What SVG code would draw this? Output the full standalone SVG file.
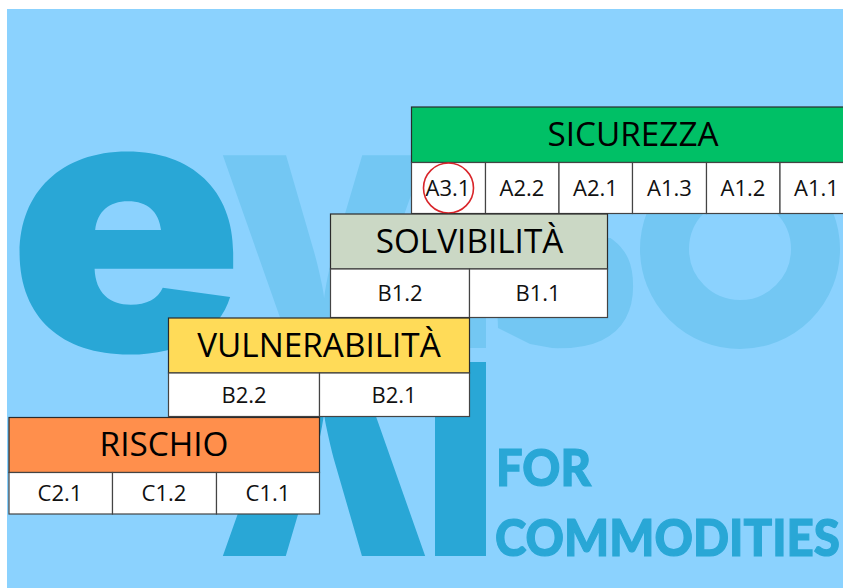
<svg xmlns="http://www.w3.org/2000/svg" width="843" height="588" viewBox="0 0 843 588">
<style>
.logo{font-family:"Open Sans","DejaVu Sans",sans-serif;font-weight:800;text-anchor:middle}
.dark{fill:#29a7d6}
.light{fill:#73c7f3}
.strap{font-family:"Lato","Open Sans",sans-serif;font-weight:900;fill:#29a7d6;stroke:#29a7d6;stroke-width:1.2;font-size:52px}
.box{stroke:#2b2b2b;stroke-width:1.2}
.cell{fill:#fff;stroke:#444;stroke-width:1.2}
.title{font-family:"Open Sans","DejaVu Sans",sans-serif;font-size:33.3px;fill:#000;text-anchor:middle}
.lab{font-family:"Open Sans","DejaVu Sans",sans-serif;font-size:22px;fill:#111;text-anchor:middle}
</style>
<defs><clipPath id="sclip"><path d="M497,300 L608,238 L640,238 L640,360 L563,350 L530,344 L498,328 Z"/></clipPath></defs>
<rect x="7" y="9" width="836" height="579" fill="#8bd2fe"/>
<g id="logo">
<text class="logo light" transform="translate(324,348) scale(1.08,1)" font-size="270">V</text>
<g clip-path="url(#sclip)"><text class="logo light" transform="translate(563,345) scale(.93,1)" font-size="345">s</text></g>
<circle cx="740" cy="249" r="75.5" fill="none" stroke="#73c7f3" stroke-width="49"/>
<rect x="435" y="155" width="51" height="193" fill="#73c7f3"/>
<text class="logo dark" style="font-family:Inter,'Open Sans',sans-serif;font-weight:900" transform="translate(126,351) scale(1.08,1)" font-size="361">e</text>
<text class="logo dark" transform="translate(324,556) scale(1.08,1)" font-size="270">Λ</text>
<rect x="435" y="362" width="51" height="194" fill="#29a7d6"/>
<text class="strap" x="496" y="486" textLength="95" lengthAdjust="spacingAndGlyphs">FOR</text>
<text class="strap" x="495" y="556" textLength="345" lengthAdjust="spacingAndGlyphs">COMMODITIES</text>
</g>
<g id="sicurezza">
<rect class="box" x="411.5" y="107" width="443" height="55.5" fill="#00c066"/>
<rect class="cell" x="411.5" y="162.5" width="74" height="51"/>
<rect class="cell" x="485.5" y="162.5" width="73.5" height="51"/>
<rect class="cell" x="559" y="162.5" width="73.5" height="51"/>
<rect class="cell" x="632.5" y="162.5" width="74" height="51"/>
<rect class="cell" x="706.5" y="162.5" width="73.5" height="51"/>
<rect class="cell" x="780" y="162.5" width="74" height="51"/>
<text class="title" x="633" y="146">SICUREZZA</text>
<text class="lab" x="448" y="196">A3.1</text>
<text class="lab" x="522" y="196">A2.2</text>
<text class="lab" x="595.5" y="196">A2.1</text>
<text class="lab" x="669.5" y="196">A1.3</text>
<text class="lab" x="743" y="196">A1.2</text>
<text class="lab" x="816.5" y="196">A1.1</text>
<circle cx="448.5" cy="188" r="25" fill="none" stroke="#d9252a" stroke-width="1.6"/>
</g>
<g id="solvibilita">
<rect class="box" x="330.5" y="214" width="277" height="55" fill="#cbd8c5"/>
<rect class="cell" x="330.5" y="269" width="139" height="48.5"/>
<rect class="cell" x="469.5" y="269" width="138" height="48.5"/>
<text class="title" x="469.5" y="253">SOLVIBILITÀ</text>
<text class="lab" x="400" y="301">B1.2</text>
<text class="lab" x="538" y="301">B1.1</text>
</g>
<g id="vulnerabilita">
<rect class="box" x="168.5" y="318" width="301" height="55" fill="#ffdb58"/>
<rect class="cell" x="168.5" y="373" width="151" height="43.5"/>
<rect class="cell" x="319.5" y="373" width="150" height="43.5"/>
<text class="title" x="319" y="357">VULNERABILITÀ</text>
<text class="lab" x="244" y="403">B2.2</text>
<text class="lab" x="394" y="403">B2.1</text>
</g>
<g id="rischio">
<rect class="box" x="9" y="417.5" width="310.5" height="55" fill="#ff8f4c"/>
<rect class="cell" x="9" y="472.5" width="103.5" height="41.5"/>
<rect class="cell" x="112.5" y="472.5" width="104" height="41.5"/>
<rect class="cell" x="216.5" y="472.5" width="103" height="41.5"/>
<text class="title" x="164" y="456">RISCHIO</text>
<text class="lab" x="60" y="501">C2.1</text>
<text class="lab" x="164" y="501">C1.2</text>
<text class="lab" x="268" y="501">C1.1</text>
</g>
</svg>
